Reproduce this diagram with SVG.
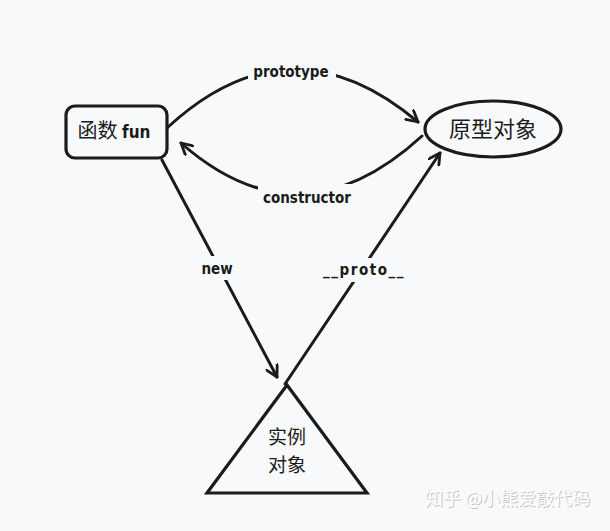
<svg xmlns="http://www.w3.org/2000/svg" width="610" height="531" viewBox="0 0 610 531">
<defs>
<style>
.ln{fill:none;stroke:#1b1b1b;stroke-width:3;stroke-linecap:round;stroke-linejoin:round}
.shape{fill:none;stroke:#1b1b1b;stroke-width:3.2}
.cjk{font-family:"Noto Sans CJK SC","Noto Sans",sans-serif;fill:#1b1b1b;text-anchor:middle}
.lbl{font-family:"DejaVu Sans Condensed","DejaVu Sans",sans-serif;font-weight:bold;font-size:15px;fill:#1b1b1b;text-anchor:middle}
.bg{fill:#f8f9fa}
.wm{font-family:"Noto Sans CJK SC",sans-serif;font-size:18px}
</style>
<marker id="ah" viewBox="0 0 14 14" refX="12" refY="7" markerWidth="14" markerHeight="14" markerUnits="userSpaceOnUse" orient="auto">
<path d="M1,1 L12,7 L1,13" fill="none" stroke="#1b1b1b" stroke-width="2.8" stroke-linecap="round" stroke-linejoin="round"/>
</marker>
</defs>
<rect width="610" height="531" fill="#f8f9fa"/>
<g id="connectors">
<path class="ln" d="M167,128 Q290,14 418,122" marker-end="url(#ah)"/>
<path class="ln" d="M422,136 Q300,248 181,143" marker-end="url(#ah)"/>
<path class="ln" d="M162,160 L277,377" marker-end="url(#ah)"/>
<path class="ln" d="M285,384 L440,153" marker-end="url(#ah)"/>
<rect class="bg" x="248" y="58" width="88" height="26"/>
<text class="lbl" x="291" y="77">prototype</text>
<rect class="bg" x="258" y="184" width="100" height="24"/>
<text class="lbl" x="307" y="203">constructor</text>
<rect class="bg" x="198" y="256" width="38" height="24"/>
<text class="lbl" x="217" y="274">new</text>
<rect class="bg" x="310" y="258" width="108" height="24"/>
<text class="lbl" x="364" y="275" letter-spacing="1.5">__proto__</text>
</g>
<g id="fun">
<rect class="shape" x="66" y="106" width="101" height="52" rx="9" ry="9" fill="#f8f9fa"/>
<text x="114" y="138" class="cjk" font-size="20">函数 <tspan font-family="DejaVu Sans Condensed, sans-serif" font-weight="bold" font-size="17">fun</tspan></text>
</g>
<g id="prototypeObj">
<ellipse class="shape" cx="493" cy="129" rx="68" ry="28"/>
<text x="493" y="137" class="cjk" font-size="22">原型对象</text>
</g>
<g id="instance">
<polygon class="shape" points="287,385 207,493 367,493" stroke-linejoin="miter"/>
<text x="287" y="444" class="cjk" font-size="19">实例</text>
<text x="287" y="472" class="cjk" font-size="19">对象</text>
</g>
<g id="watermark">
<text x="426" y="506" class="wm" fill="#c4c4c4">知乎 @小熊爱敲代码</text>
<text x="425" y="505" class="wm" fill="#ffffff">知乎 @小熊爱敲代码</text>
</g>
</svg>
